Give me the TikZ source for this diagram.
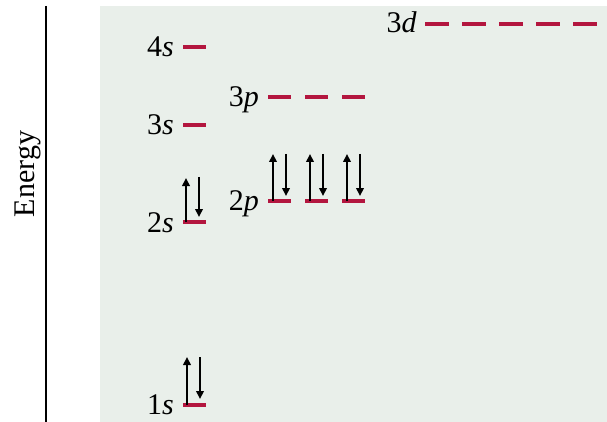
\documentclass[tikz,border=0pt]{standalone}
\usepackage{fontspec}
\setmainfont{Liberation Serif}[ItalicFont={Liberation Serif Italic}]
\usetikzlibrary{arrows.meta}
\definecolor{lvl}{HTML}{B3163F}
\definecolor{panel}{HTML}{E9EFEA}
\begin{document}
\begin{tikzpicture}[x=1pt,y=-1pt,
  level/.style={draw=lvl,line width=3.5pt},
  elec/.style={draw=black,line width=2pt,-{Triangle[length=8pt,width=7.5pt]}},
  orb/.style={font=\fontsize{30}{30}\selectfont,anchor=base east,inner sep=0pt}]
\useasboundingbox (0,0) rectangle (607,422);
\fill[panel] (100,6) rectangle (607,422);
\draw[line width=2.5pt] (46,6) coordinate (axtop) -- (46,422) coordinate (axbot);
\node[rotate=90,font=\fontsize{30}{30}\selectfont,inner sep=0pt] (energy) at (28,174) {Energy};
% 1s
\draw[level] (183,405) -- (206,405);
\node[orb] (l1s) at (174,414) {1\textit{s}};
\draw[elec] (187,405) -- (187,357);
\draw[elec] (200,357) -- (200,399);
% 2s
\draw[level] (183,222) -- (206,222);
\node[orb] (l2s) at (174,232) {2\textit{s}};
\draw[elec] (186,222) -- (186,178);
\draw[elec] (199,177) -- (199,217);
% 2p
\foreach \x in {268,305,342}{
  \draw[level] (\x,201) -- (\x+23,201);
  \draw[elec] (\x+5,201) -- (\x+5,154);
  \draw[elec] (\x+18,154) -- (\x+18,196);
}
\node[orb] (l2p) at (259,210) {2\textit{p}};
% 3s
\draw[level] (183,125) -- (206,125);
\node[orb] (l3s) at (174,135) {3\textit{s}};
% 3p
\foreach \x in {268,305,342}{
  \draw[level] (\x,97) -- (\x+23,97);
}
\node[orb] (l3p) at (259,107) {3\textit{p}};
% 4s
\draw[level] (183,47) -- (206,47);
\node[orb] (l4s) at (174,57) {4\textit{s}};
% 3d
\foreach \x in {425,462,499,536,573}{
  \draw[level] (\x,24) -- (\x+24,24);
}
\node[orb] (l3d) at (417,33) {3\textit{d}};
\end{tikzpicture}
\end{document}
